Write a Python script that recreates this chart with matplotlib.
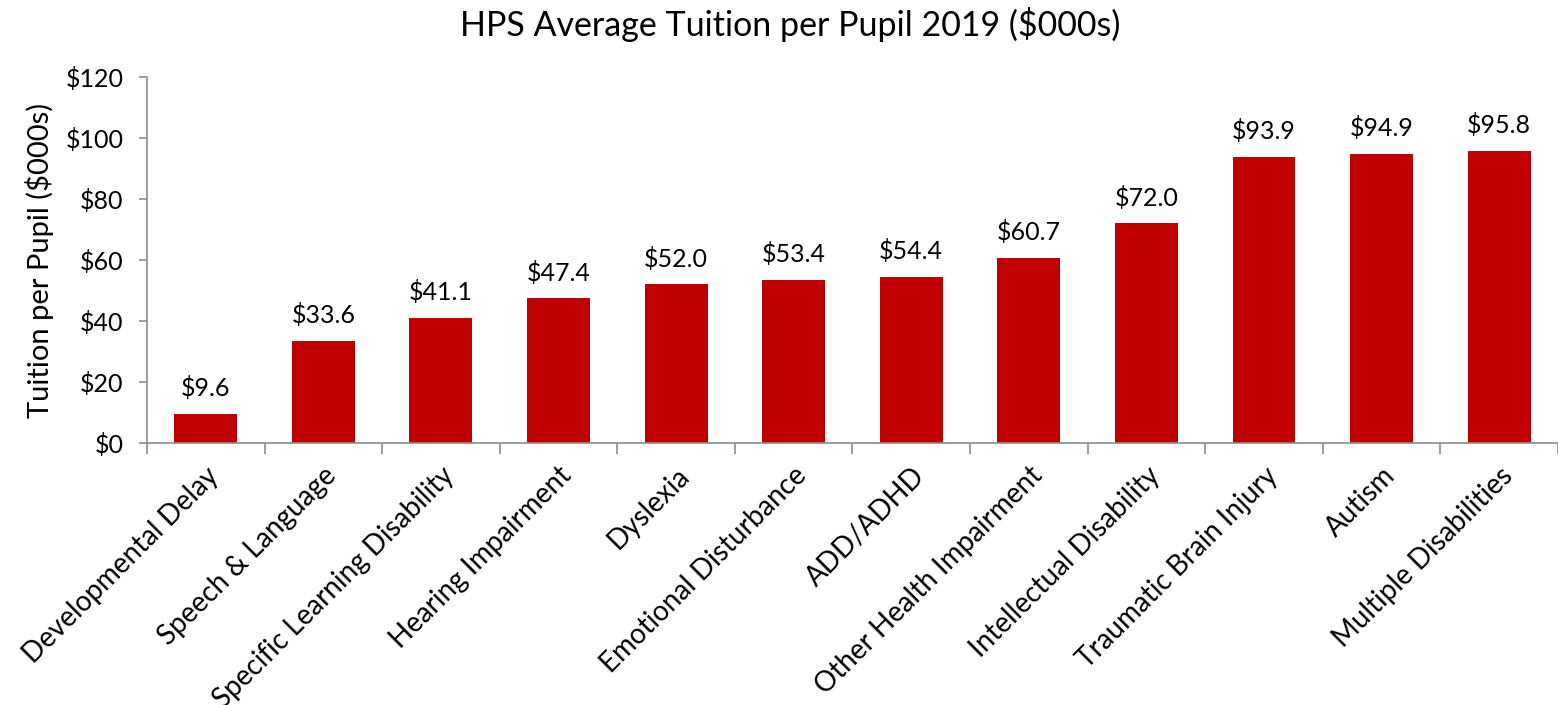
import matplotlib
matplotlib.use("Agg")
import matplotlib.pyplot as plt
import numpy as np

categories = ["Developmental Delay", "Speech & Language", "Specific Learning Disability",
              "Hearing Impairment", "Dyslexia", "Emotional Disturbance", "ADD/ADHD",
              "Other Health Impairment", "Intellectual Disability", "Traumatic Brain Injury",
              "Autism", "Multiple Disabilities"]
values = [9.6, 33.6, 41.1, 47.4, 52.0, 53.4, 54.4, 60.7, 72.0, 93.9, 94.9, 95.8]
yticks = [0, 20, 40, 60, 80, 100, 120]

plt.rcParams['font.family'] = ['Lato', 'DejaVu Sans']
axis_color = '#8c8c8c'

fig = plt.figure(figsize=(15.58, 7.05), dpi=100)
ax = fig.add_axes([0.0943, 0.3716, 0.9057, 0.5192])

x = np.arange(len(categories))
bars = ax.bar(x, values, width=0.535, color='#c00000')
for xi, v in zip(x, values):
    ax.annotate(f"${v:.1f}", (xi, v), xytext=(0, 10), textcoords='offset points',
                ha='center', va='bottom', fontsize=18, color='#000000')

ax.set_xlim(-0.5, len(categories) - 0.5)
ax.set_ylim(0, 120)
ax.set_yticks(yticks)
ax.set_yticklabels([f"${t}" for t in yticks], fontsize=18)
ax.set_xticks(x)
ax.set_xticklabels(categories, rotation=45, ha='right', va='top', rotation_mode='anchor',
                   fontsize=20)
ax.tick_params(axis='x', length=0, pad=14)
ax.set_xticks(np.arange(-0.5, len(categories) + 0.5, 1), minor=True)
ax.tick_params(axis='x', which='minor', length=8, color=axis_color, width=1.2)
ax.tick_params(axis='y', length=6, color=axis_color, width=1.2, pad=11)

for s in ['top', 'right']:
    ax.spines[s].set_visible(False)
for s in ['left', 'bottom']:
    ax.spines[s].set_color(axis_color)
    ax.spines[s].set_linewidth(1.2)

ax.set_ylabel("Tuition per Pupil ($000s)", fontsize=21, labelpad=8)
fig.suptitle("HPS Average Tuition per Pupil 2019 ($000s)", fontsize=24.5, y=0.99, x=0.507)

fig.savefig("out.png", dpi=100)
